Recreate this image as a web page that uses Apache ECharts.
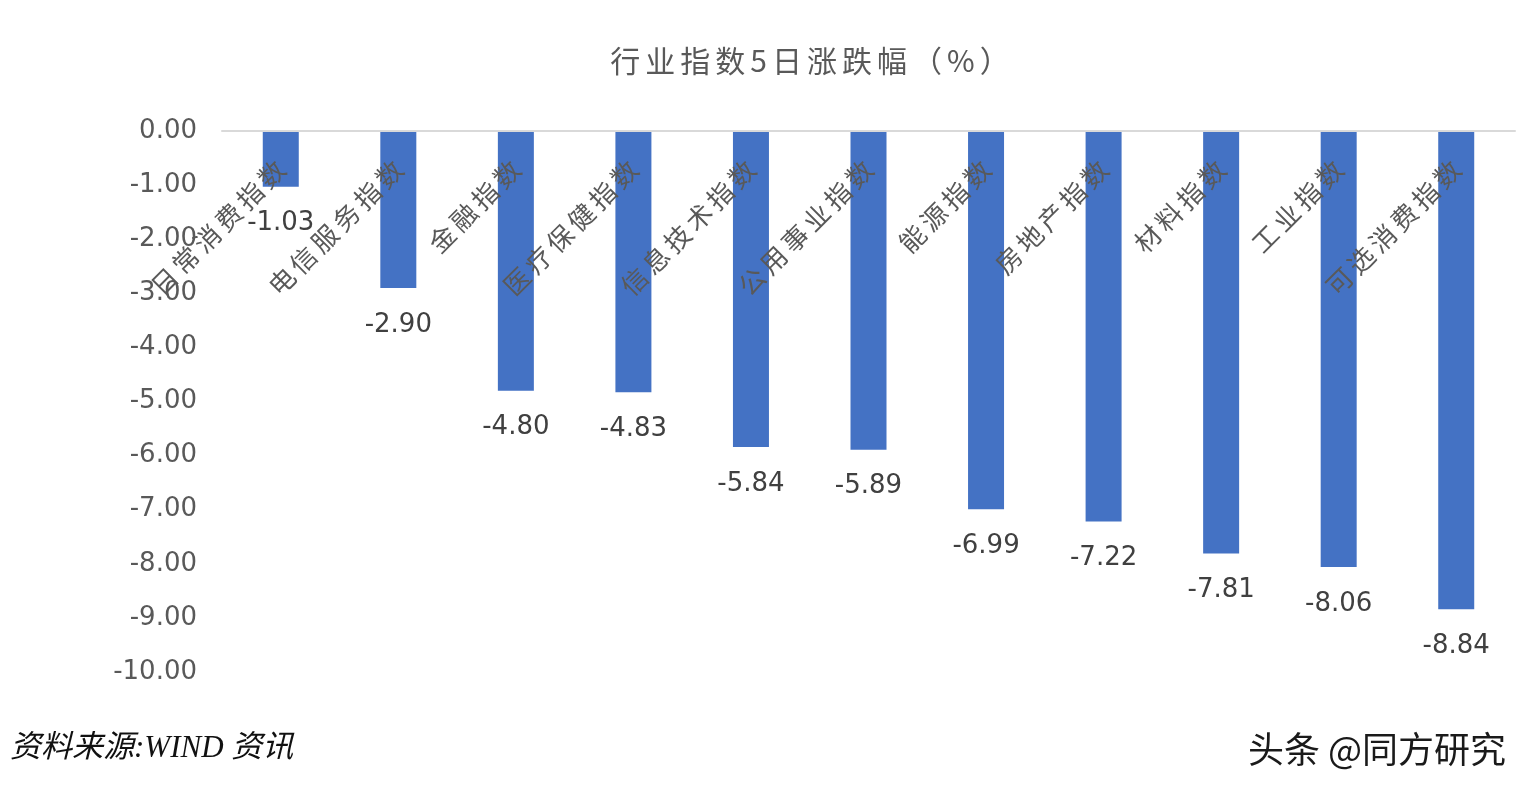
<!DOCTYPE html>
<html>
<head>
<meta charset="utf-8">
<script src="https://cdn.jsdelivr.net/npm/echarts@6/dist/echarts.min.js"></script>
<style>
html,body{margin:0;padding:0;background:#fff;}
#c{width:1530px;height:796px;}
</style>
</head>
<body>
<div id="c"></div>
<script>
const titleText = '行业指数5日涨跌幅（%）';
const categories = ['日常消费指数','电信服务指数','金融指数','医疗保健指数','信息技术指数','公用事业指数','能源指数','房地产指数','材料指数','工业指数','可选消费指数'];
const values = [-1.03, -2.90, -4.80, -4.83, -5.84, -5.89, -6.99, -7.22, -7.81, -8.06, -8.84];
const yMin = -10, yMax = 0, yStep = 1;
const sourceText = '资料来源:WIND 资讯';
const watermarkText = '头条 @同方研究';

const spaced = (s, sp) => Array.from(s).join(sp);
const FONT = '"Noto Sans CJK SC", "Noto Sans", sans-serif';
const NUMFONT = '"DejaVu Sans", "Noto Sans", sans-serif';

const chart = echarts.init(document.getElementById('c'));
chart.setOption({
  animation: false,
  backgroundColor: '#ffffff',
  title: {
    text: spaced(titleText, '\u2006'),
    left: 805,
    textAlign: 'center',
    top: 41,
    textStyle: { fontFamily: FONT, fontSize: 30, fontWeight: 'normal', color: '#595959' }
  },
  grid: { left: 222, right: 15, top: 131, bottom: 124, containLabel: false },
  xAxis: {
    type: 'category',
    position: 'top',
    data: categories,
    z: 5,
    axisLine: { show: true, lineStyle: { color: '#d9d9d9', width: 2 } },
    axisTick: { show: false },
    axisLabel: {
      inside: true,
      rotate: 45,
      margin: 34,
      interval: 0,
      color: '#595959',
      fontFamily: FONT,
      fontSize: 26,
      formatter: v => spaced(v, '\u2006')
    },
    splitLine: { show: false }
  },
  yAxis: {
    type: 'value',
    min: yMin,
    max: yMax,
    interval: yStep,
    axisLine: { show: false },
    axisTick: { show: false },
    splitLine: { show: false },
    axisLabel: {
      margin: 25,
      color: '#595959',
      fontFamily: NUMFONT,
      fontSize: 26,
      padding: [4, 0, 0, 0],
      formatter: v => v.toFixed(2)
    }
  },
  series: [{
    type: 'bar',
    data: values,
    barWidth: 36,
    itemStyle: { color: '#4472C4' },
    label: {
      show: true,
      position: 'bottom',
      distance: 24,
      color: '#404040',
      fontFamily: NUMFONT,
      fontSize: 26,
      formatter: p => p.value.toFixed(2)
    }
  }],
  graphic: [
    {
      type: 'text',
      left: 10,
      top: 733,
      style: {
        text: sourceText,
        fontFamily: '"Liberation Serif", "Noto Sans CJK SC", serif',
        fontStyle: 'italic',
        fontSize: 31,
        fill: '#111111'
      }
    },
    {
      type: 'text',
      right: 24,
      top: 731,
      style: {
        text: watermarkText,
        fontFamily: FONT,
        fontSize: 36,
        fill: '#1a1a1a',
        shadowColor: 'rgba(0,0,0,0.35)',
        shadowOffsetX: 1,
        shadowOffsetY: 1,
        shadowBlur: 1
      }
    }
  ]
});
</script>
</body>
</html>
